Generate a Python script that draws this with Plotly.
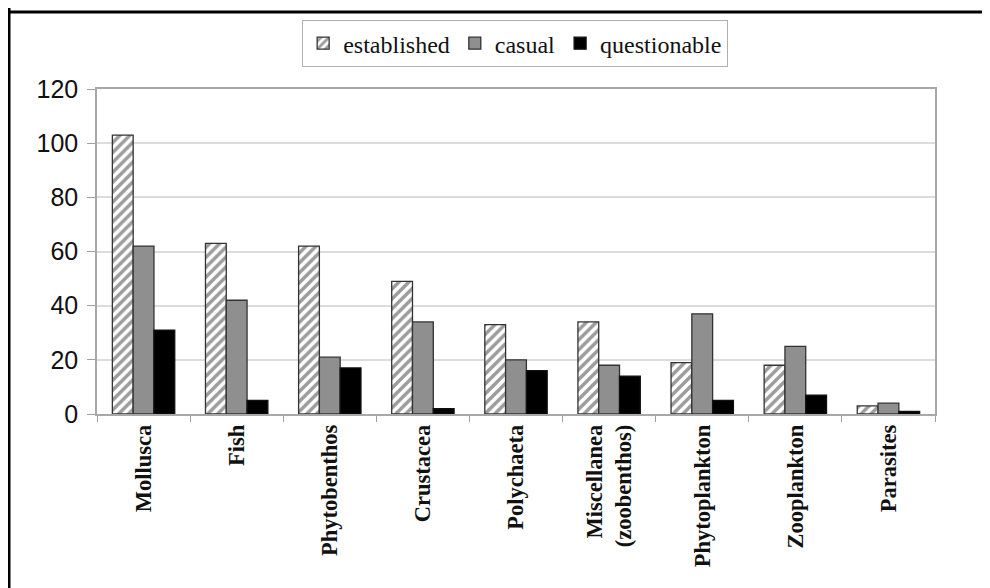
import plotly.graph_objects as go

categories = ["Mollusca", "Fish", "Phytobenthos", "Crustacea", "Polychaeta",
              "Miscellanea<br>(zoobenthos)", "Phytoplankton", "Zooplankton", "Parasites"]
established = [103, 63, 62, 49, 33, 34, 19, 18, 3]
casual = [62, 42, 21, 34, 20, 18, 37, 25, 4]
questionable = [31, 5, 17, 2, 16, 14, 5, 7, 1]
y_ticks = [0, 20, 40, 60, 80, 100, 120]

fig = go.Figure()
fig.add_trace(go.Bar(
    name="established", x=categories, y=established,
    marker=dict(color="white", line=dict(color="#333333", width=1.3),
                pattern=dict(shape="/", fgcolor="#3a3a3a", bgcolor="white", size=7, solidity=0.5)),
))
fig.add_trace(go.Bar(
    name="casual", x=categories, y=casual,
    marker=dict(color="#8f8f8f", line=dict(color="#333333", width=1.3)),
))
fig.add_trace(go.Bar(
    name="questionable", x=categories, y=questionable,
    marker=dict(color="#000000", line=dict(color="#111111", width=1.3)),
))

fig.update_layout(
    width=990, height=588,
    margin=dict(l=89, r=63, t=79, b=182),
    paper_bgcolor="white", plot_bgcolor="white",
    barmode="group", bargap=0.33, bargroupgap=0,
    showlegend=True,
    legend=dict(orientation="h", x=0.499, y=1.212, xanchor="center", yanchor="top",
                font=dict(family="Liberation Serif", size=24, color="#111111"),
                bordercolor="#b0b0b0", borderwidth=1, bgcolor="white",
                itemwidth=30, tracegroupgap=0),
    xaxis=dict(
        tickangle=-90, tickson="boundaries", ticks="outside", ticklen=6, tickcolor="#a0a0a0",
        showline=True, linecolor="#a8a8a8", linewidth=1.5, mirror=True,
        showgrid=False,
        tickfont=dict(family="Liberation Serif", size=22.5, color="#111111", weight="bold"),
    ),
    yaxis=dict(
        range=[0, 120], tickvals=y_ticks, ticks="outside", ticklen=8, tickcolor="#a0a0a0",
        showline=True, linecolor="#a8a8a8", linewidth=1.5, mirror=True,
        showgrid=True, gridcolor="#dcdcdc", gridwidth=1.5, zeroline=False,
        ticklabelstandoff=4,
        tickfont=dict(family="Liberation Sans", size=25, color="#111111"),
    ),
    shapes=[
        dict(type="line", xref="paper", yref="paper", x0=-0.11, x1=1.2, y0=1.237, y1=1.237,
             line=dict(color="black", width=3)),
        dict(type="line", xref="paper", yref="paper", x0=-0.105, x1=-0.105, y0=-0.6, y1=1.25,
             line=dict(color="black", width=3)),
    ],
)

fig.write_html("out.html")
